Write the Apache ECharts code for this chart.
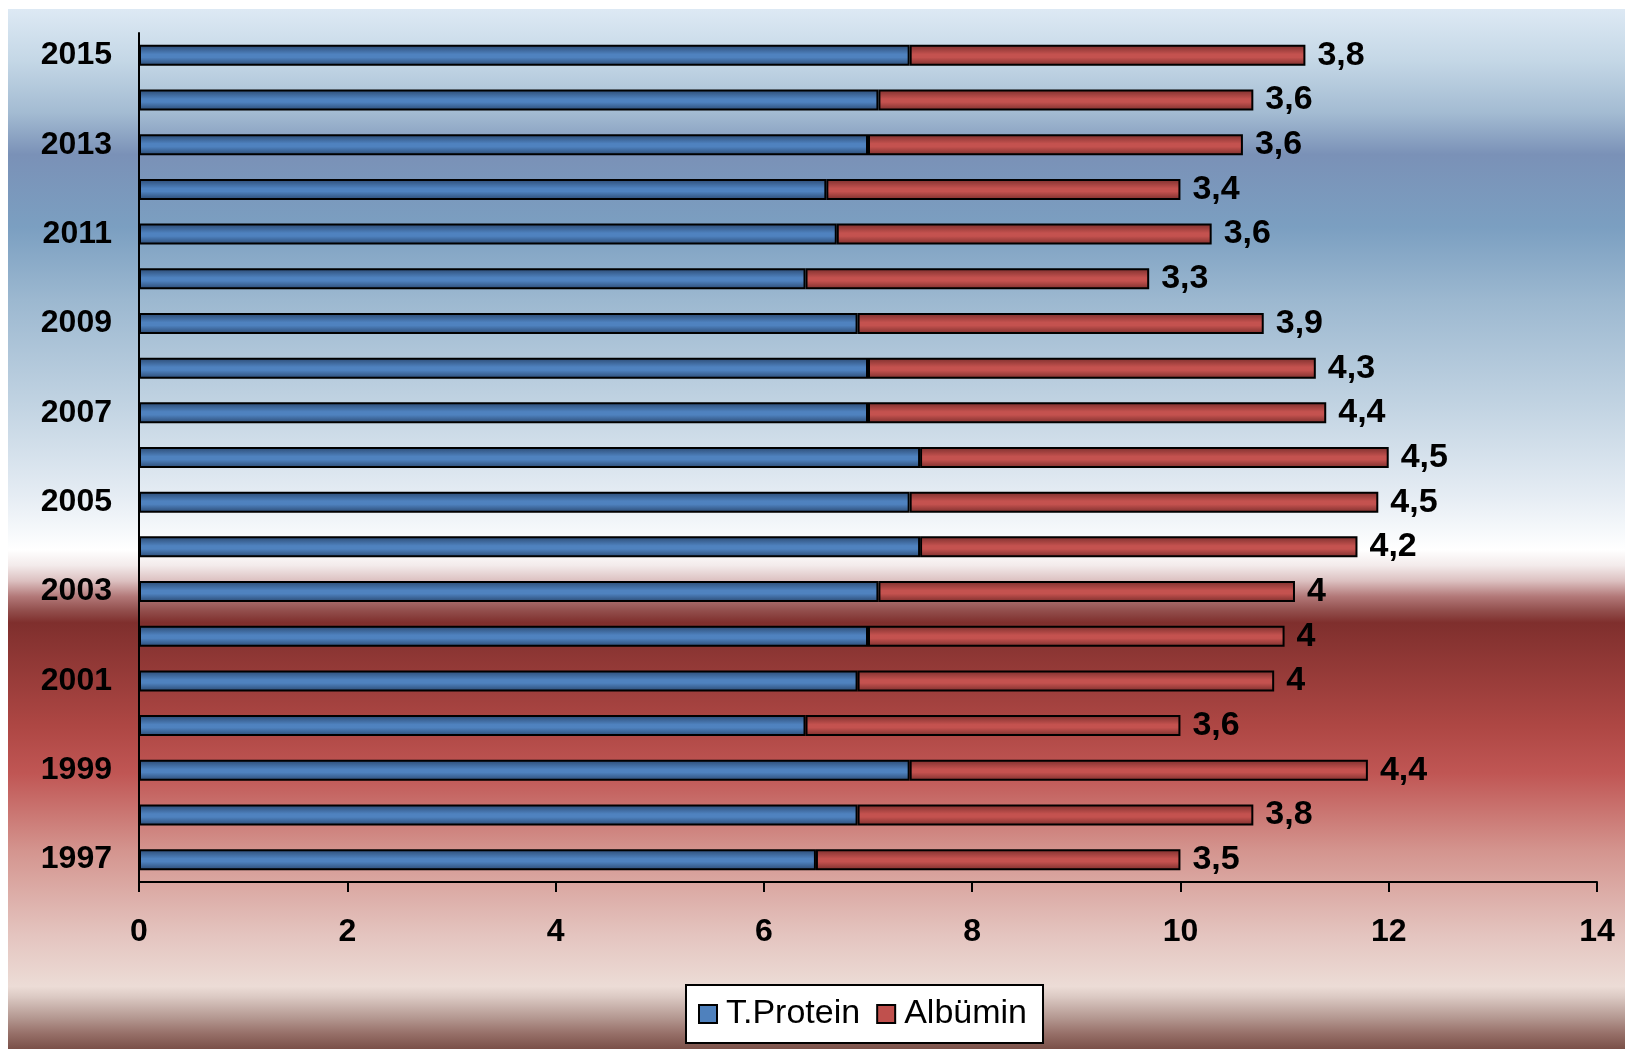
<!DOCTYPE html>
<html>
<head>
<meta charset="utf-8">
<script src="https://cdn.jsdelivr.net/npm/echarts@6/dist/echarts.min.js"></script>
<style>
  html, body { margin: 0; padding: 0; background: #fff; }
  #chart { width: 1625px; height: 1049px; }
</style>
</head>
<body>
<div id="chart"></div>
<script>
  // years bottom -> top
  var years = ['1997', '1998', '1999', '2000', '2001', '2002', '2003', '2004', '2005', '2006',
    '2007', '2008', '2009', '2010', '2011', '2012', '2013', '2014', '2015'];
  var tProtein = [6.5, 6.9, 7.4, 6.4, 6.9, 7.0, 7.1, 7.5, 7.4, 7.5,
    7.0, 7.0, 6.9, 6.4, 6.7, 6.6, 7.0, 7.1, 7.4];
  var albumin = [3.5, 3.8, 4.4, 3.6, 4, 4, 4, 4.2, 4.5, 4.5,
    4.4, 4.3, 3.9, 3.3, 3.6, 3.4, 3.6, 3.6, 3.8];
  var xTicks = [0, 14, 2];

  var font = '"Liberation Sans", Arial, sans-serif';

  function barGrad(edge, mid) {
    return new echarts.graphic.LinearGradient(0, 0, 0, 1, [
      { offset: 0, color: edge },
      { offset: 0.45, color: mid },
      { offset: 0.6, color: mid },
      { offset: 1, color: edge }
    ]);
  }

  var chart = echarts.init(document.getElementById('chart'));
  chart.setOption({
    animation: false,
    graphic: [{
      type: 'rect',
      z: -10,
      silent: true,
      shape: { x: 8, y: 9, width: 1617, height: 1040 },
      style: {
        fill: new echarts.graphic.LinearGradient(0, 0, 0, 1, [
          { offset: 0.00, color: '#dde9f4' },
          { offset: 0.05, color: '#c4d7e6' },
          { offset: 0.10, color: '#a3bbd2' },
          { offset: 0.14, color: '#7a91b7' },
          { offset: 0.21, color: '#7b9fc1' },
          { offset: 0.28, color: '#9cb8d0' },
          { offset: 0.38, color: '#c1d3e2' },
          { offset: 0.47, color: '#e6edf4' },
          { offset: 0.52, color: '#ffffff' },
          { offset: 0.535, color: '#f3ebeb' },
          { offset: 0.55, color: '#dcc0c0' },
          { offset: 0.565, color: '#b27878' },
          { offset: 0.578, color: '#93504e' },
          { offset: 0.59, color: '#7f2f2d' },
          { offset: 0.69, color: '#ae4744' },
          { offset: 0.735, color: '#c05654' },
          { offset: 0.81, color: '#d4958f' },
          { offset: 0.89, color: '#e4c4bf' },
          { offset: 0.94, color: '#ecdcd6' },
          { offset: 0.95, color: '#dbc9c3' },
          { offset: 0.97, color: '#b49891' },
          { offset: 0.985, color: '#977069' },
          { offset: 1.00, color: '#7a5048' }
        ])
      }
    }],
    grid: {
      left: 139, right: 28, top: 33, bottom: 167,
      outerBoundsMode: 'none'
    },
    legend: {
      left: 686, top: 985,
      padding: [12, 16, 12, 12],
      itemGap: 16,
      itemWidth: 18, itemHeight: 18,
      backgroundColor: '#fff',
      borderColor: '#000', borderWidth: 2,
      textStyle: { fontFamily: font, fontSize: 34, color: '#000', padding: [0, 0, 0, 4] },
      data: [
        { name: 'T.Protein', icon: 'rect', itemStyle: { color: '#4f81bd', borderColor: '#000', borderWidth: 2 } },
        { name: 'Albümin', icon: 'rect', itemStyle: { color: '#c0504d', borderColor: '#000', borderWidth: 2 } }
      ]
    },
    xAxis: {
      type: 'value',
      min: xTicks[0], max: xTicks[1], interval: xTicks[2],
      splitLine: { show: false },
      axisLine: { show: true, lineStyle: { color: '#000', width: 2 } },
      axisTick: { show: true, length: 10, lineStyle: { color: '#000', width: 2 } },
      axisLabel: { margin: 34, color: '#000', fontFamily: font, fontSize: 32, fontWeight: 'bold' }
    },
    yAxis: {
      type: 'category',
      data: years,
      axisLine: { show: true, lineStyle: { color: '#000', width: 2 } },
      axisTick: { show: false },
      axisLabel: { interval: 1, margin: 27, color: '#000', fontFamily: font, fontSize: 32, fontWeight: 'bold' }
    },
    series: [{
      name: 'T.Protein',
      type: 'bar',
      stack: 'tot',
      barWidth: 21,
      data: tProtein,
      itemStyle: { color: barGrad('#2a4870', '#4f82bf'), borderColor: '#000', borderWidth: 2 }
    }, {
      name: 'Albümin',
      type: 'bar',
      stack: 'tot',
      barWidth: 21,
      data: albumin,
      itemStyle: { color: barGrad('#7a2e2c', '#c4524f'), borderColor: '#000', borderWidth: 2 },
      label: {
        show: true,
        position: 'right',
        distance: 12,
        color: '#000',
        fontFamily: font,
        fontSize: 34,
        fontWeight: 'bold',
        formatter: function (p) { return String(p.value).replace('.', ','); }
      }
    }]
  });
</script>
</body>
</html>
